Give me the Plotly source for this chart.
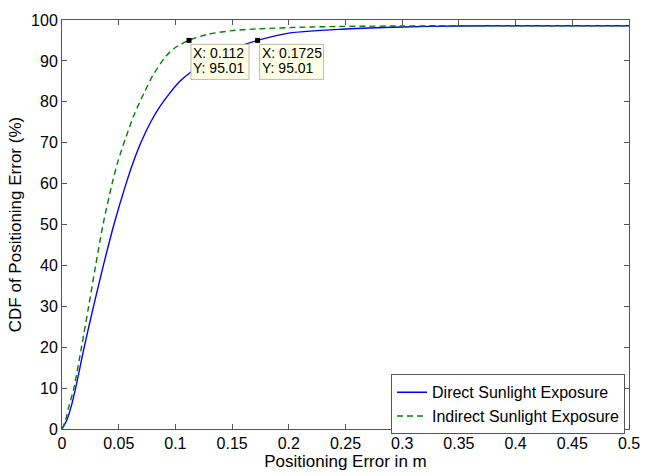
import plotly.graph_objects as go

# Data
direct_x = [0, 0.004, 0.008, 0.012, 0.0196, 0.0278, 0.0365, 0.0458, 0.0565, 0.0625,
            0.0695, 0.0787, 0.086, 0.0947, 0.1035, 0.1137, 0.13, 0.15, 0.1725,
            0.2, 0.25, 0.3, 0.35, 0.4, 0.5]
direct_y = [0, 2, 5.4, 10, 20, 30, 40, 50, 60, 65,
            70, 75.3, 78.7, 82.0, 84.9, 87.3, 90.2, 92.9, 95.01,
            96.8, 97.8, 98.3, 98.55, 98.6, 98.6]

indirect_x = [0, 0.003, 0.006, 0.0105, 0.0172, 0.0235, 0.0297, 0.0362, 0.0442, 0.0494,
              0.0567, 0.064, 0.0728, 0.080, 0.0918, 0.1006, 0.112, 0.127, 0.15, 0.171,
              0.22, 0.3, 0.5]
indirect_y = [0, 2, 5.4, 10, 20, 30, 40, 50, 60, 65.5,
              71.6, 77.1, 82.4, 86.4, 91.2, 93.4, 95.01, 96.4, 97.4, 97.8,
              98.3, 98.55, 98.6]

tip_x = [0.112, 0.1725]
tip_y = [95.01, 95.01]
tip_labels = ["0.112", "0.1725"]
tip_box_widths = [58, 64]

x_ticks = [0, 0.05, 0.1, 0.15, 0.2, 0.25, 0.3, 0.35, 0.4, 0.45, 0.5]
x_tick_text = ["0", "0.05", "0.1", "0.15", "0.2", "0.25", "0.3", "0.35", "0.4", "0.45", "0.5"]
y_ticks = [0, 10, 20, 30, 40, 50, 60, 70, 80, 90, 100]

font_family = "Liberation Sans, Arial, Helvetica, sans-serif"

fig = go.Figure()
fig.add_trace(go.Scatter(
    x=direct_x, y=direct_y, mode="lines", name="Direct Sunlight Exposure",
    line=dict(color="#0000FF", width=1.4, shape="spline", smoothing=0.8),
))
fig.add_trace(go.Scatter(
    x=indirect_x, y=indirect_y, mode="lines", name="Indirect Sunlight Exposure",
    line=dict(color="#008000", width=1.4, dash="6px,4px", shape="spline", smoothing=0.8),
))

# Data-tip boxes (MATLAB style)
for tx, ty, label, bw in zip(tip_x, tip_y, tip_labels, tip_box_widths):
    fig.add_shape(
        type="rect", xref="x", yref="y",
        xsizemode="pixel", ysizemode="pixel", xanchor=tx, yanchor=ty,
        x0=2, x1=2 + bw, y0=-39, y1=-4,
        fillcolor="#FFFFE6", line=dict(color="#BBBBAA", width=1), layer="above",
    )
    for line_text, dy in [(f"X: {label}", -12.5), (f"Y: {ty:.2f}", -27.5)]:
        fig.add_annotation(
            x=tx, y=ty, xref="x", yref="y", text=line_text,
            showarrow=False, xanchor="left", yanchor="middle", align="left",
            xshift=3, yshift=dy, borderpad=0,
            font=dict(family=font_family, size=14, color="black"),
        )

fig.add_trace(go.Scatter(
    x=tip_x, y=tip_y, mode="markers", showlegend=False,
    marker=dict(symbol="square", size=5, color="black"),
    hoverinfo="skip",
))

axis_common = dict(
    showline=True, linecolor="#555555", linewidth=1, mirror="ticks",
    ticks="inside", ticklen=5, tickcolor="#555555", showgrid=False, zeroline=False,
    tickfont=dict(family=font_family, size=16, color="black"),
)

fig.update_xaxes(
    range=[0, 0.5], tickvals=x_ticks, ticktext=x_tick_text,
    title=dict(text="Positioning Error in m", standoff=0,
               font=dict(family=font_family, size=17, color="black")),
    **axis_common,
)
fig.update_yaxes(
    range=[0, 100], tickvals=y_ticks,
    title=dict(text="CDF of Positioning Error (%)", standoff=5,
               font=dict(family=font_family, size=17, color="black")),
    **axis_common,
)

fig.update_layout(
    width=652, height=476,
    margin=dict(l=62, r=21, t=13, b=40),
    paper_bgcolor="white", plot_bgcolor="white",
    showlegend=True,
    legend=dict(
        x=0.993, y=-0.013, xanchor="right", yanchor="bottom",
        bgcolor="white", bordercolor="#555555", borderwidth=1,
        font=dict(family=font_family, size=16, color="black"),
        tracegroupgap=0, itemwidth=30,
    ),
)

fig.write_html("out.html")
